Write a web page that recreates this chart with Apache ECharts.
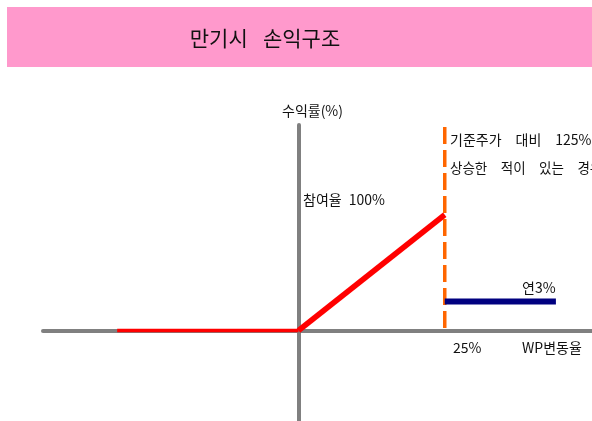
<!DOCTYPE html>
<html>
<head>
<meta charset="utf-8">
<script src="https://cdn.jsdelivr.net/npm/echarts@6/dist/echarts.min.js"></script>
<style>
  html, body { margin: 0; padding: 0; background: #fff; }
  #chart { width: 592px; height: 421px; }
</style>
</head>
<body>
<div id="chart"></div>
<script>
// Payoff at maturity: x = underlying change (%), y = return (%)
const flatLeg = [[-31, 0], [0, 0]];          // downside: principal protected
const gainLeg = [[0, 0], [25, 12]];          // upside with 100% participation
const barrierLine = [[25, 21.1], [25, 0]];   // 125% knock-out level
const couponLeg = [[25, 3], [44, 3]];        // rebate once knocked out
const xRange = [-43.68, 50.17];
const yRange = [-9.38, 21.3];

const FONT = "'Noto Sans CJK KR', 'Noto Sans', sans-serif";
const chart = echarts.init(document.getElementById('chart'), null, { renderer: 'canvas' });

const noAxisDecor = {
  axisTick: { show: false },
  axisLabel: { show: false },
  splitLine: { show: false }
};
const axisLine = { show: true, onZero: true, lineStyle: { color: '#808080', width: 4 } };

function textEl(str, x, y, size, align) {
  return {
    type: 'text', x: x, y: y,
    style: { text: str, fill: '#111', font: size + 'px ' + FONT, textAlign: align || 'left', textVerticalAlign: 'middle' },
    z: 10
  };
}

chart.setOption({
  animation: false,
  backgroundColor: '#fff',
  grid: { left: 43, right: 0, top: 125, bottom: 0 },
  xAxis: Object.assign({ type: 'value', min: xRange[0], max: xRange[1], axisLine: axisLine }, noAxisDecor),
  yAxis: Object.assign({ type: 'value', min: yRange[0], max: yRange[1], axisLine: axisLine }, noAxisDecor),
  series: [
    { type: 'line', data: flatLeg, symbol: 'none', lineStyle: { color: '#FF0000', width: 3.5 } },
    { type: 'line', data: gainLeg, symbol: 'none', lineStyle: { color: '#FF0000', width: 5.5 } },
    { type: 'line', data: barrierLine, symbol: 'none', lineStyle: { color: '#FF6600', width: 3.5, type: [17, 6] } },
    { type: 'line', data: couponLeg, symbol: 'none', lineStyle: { color: '#000080', width: 6 } }
  ],
  graphic: [
    { type: 'rect', shape: { x: 7, y: 7, width: 585, height: 60 }, style: { fill: '#FF99CC' }, z: 0 },
    textEl('만기시\u2002 손익구조', 265, 38, 21, 'center'),
    textEl('수익률(%)', 282, 111, 14),
    textEl('기준주가\u3000대비\u3000125%\u3000이상', 450, 140, 14),
    textEl('상승한\u3000적이\u3000있는\u3000경우', 450, 168, 13.5),
    textEl('참여율\u2002100%', 303, 200, 14),
    textEl('연3%', 522, 288, 14),
    textEl('25%', 453, 348, 14),
    textEl('WP변동율', 522, 348, 14)
  ]
});
</script>
</body>
</html>
